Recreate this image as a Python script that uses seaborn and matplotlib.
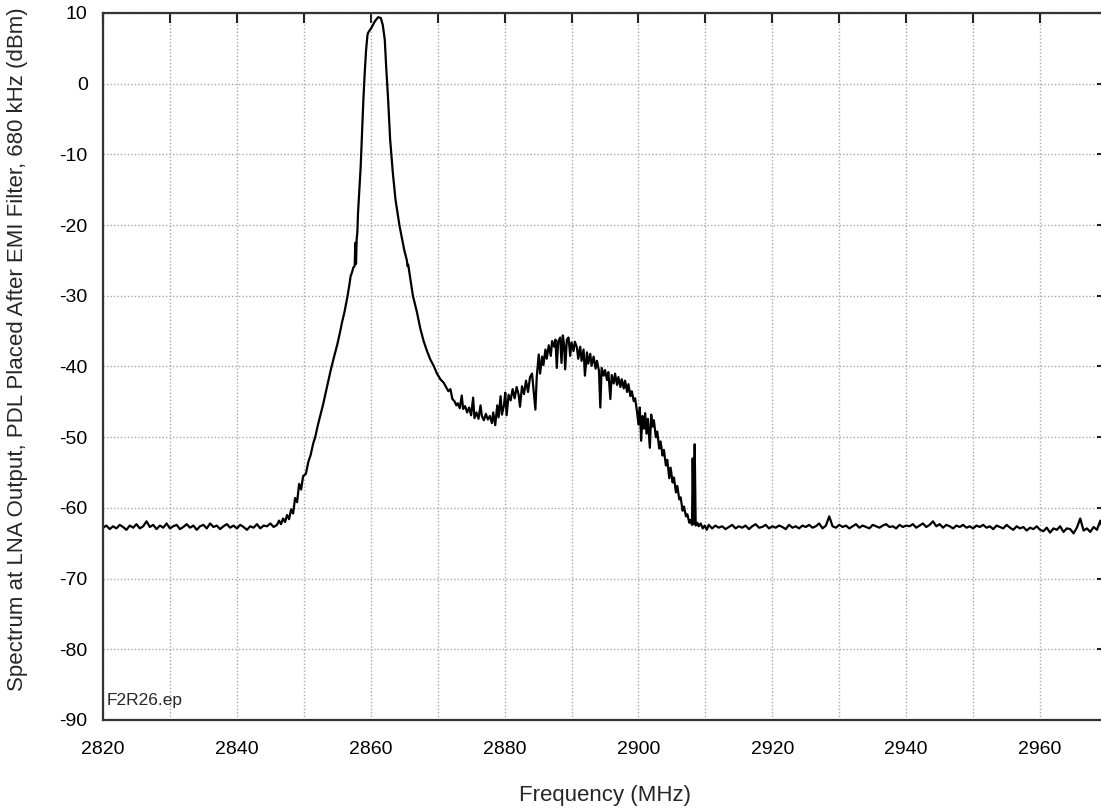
import numpy as np
import pandas as pd
import matplotlib
matplotlib.use("Agg")
import matplotlib.pyplot as plt
import matplotlib.ticker as mticker
import seaborn as sns

# ---- data ----
# left noise floor, sampled every 0.5 MHz from 2820 to 2846
floor_left_start, floor_left_step = 2820.0, 0.5
floor_left_dbm = [
    -62.8, -62.5, -63.0, -62.6, -62.9, -62.4, -62.7, -63.1, -62.5, -62.8,
    -62.3, -62.9, -62.6, -61.9, -62.7, -62.4, -63.0, -62.5, -62.8, -62.2,
    -62.9, -62.6, -62.4, -63.0, -62.7, -62.3, -62.8, -62.5, -63.1, -62.6,
    -62.4, -62.9, -62.2, -62.7, -62.5, -63.0, -62.6, -62.3, -62.8, -62.5,
    -62.9, -62.4, -62.7, -63.1, -62.6, -62.8, -62.3, -62.9, -62.5, -62.6,
    -62.2, -62.7, -62.4,
]

# main carrier peak
peak_mhz = [
    2846.3, 2846.6, 2846.9, 2847.2, 2847.5, 2847.8, 2848.1, 2848.4, 2848.7, 2849.0,
    2849.3, 2849.6, 2849.9, 2850.3, 2850.7, 2851.0, 2851.4, 2851.7, 2852.1, 2852.5,
    2852.9, 2853.2, 2853.6, 2854.0, 2854.5, 2855.0, 2855.4, 2855.7, 2856.1, 2856.5,
    2856.8, 2857.0, 2857.2, 2857.4, 2857.6, 2857.7, 2857.8, 2857.9, 2858.0, 2858.1,
    2858.3, 2858.5, 2858.7, 2858.9, 2859.1, 2859.3, 2859.5, 2859.6, 2860.1, 2860.6,
    2861.1, 2861.5, 2861.8, 2862.1, 2862.3, 2862.6, 2862.9, 2863.3, 2863.7, 2864.3,
    2865.0, 2865.4, 2865.5, 2865.6, 2866.3, 2866.9, 2867.4, 2867.9, 2868.4,
    2868.9, 2869.4, 2869.9, 2870.4, 2870.9, 2871.3, 2871.6,
]
peak_dbm = [
    -61.8, -62.3, -61.5, -62.0, -61.0, -61.6, -60.2, -60.8, -58.6, -59.2,
    -56.6, -57.4, -55.5, -55.2, -53.4, -52.6, -50.9, -50.0, -48.3, -46.8,
    -45.3, -44.0, -42.3, -40.6, -38.7, -36.9, -35.2, -33.8, -32.2, -30.2,
    -28.5, -27.2, -26.7, -26.0, -25.8, -22.5, -25.5, -22.0, -21.0, -18.3,
    -15.0, -11.7, -7.0, -2.3, 1.5, 4.7, 6.8, 7.2, 7.9, 8.8,
    9.4, 9.3, 8.3, 6.2, 2.5, -2.3, -7.9, -12.6, -16.4, -20.1,
    -23.5, -25.0, -25.8, -25.6, -30.0, -32.3, -34.6, -36.4, -37.8,
    -39.0, -39.9, -41.0, -41.8, -42.3, -43.0, -43.5,
]

# trough, second hump and fall to the floor (incl. spur near 2908 MHz)
hump_mhz = [
    2871.9, 2872.2, 2872.5, 2872.8, 2873.0, 2873.3, 2873.6, 2873.8, 2874.1, 2874.4,
    2874.7, 2875.0, 2875.3, 2875.5, 2875.8, 2876.1, 2876.4, 2876.6, 2876.9, 2877.2,
    2877.5, 2877.8, 2878.1, 2878.3, 2878.6, 2878.9, 2879.1, 2879.4, 2879.6, 2879.9,
    2880.1, 2880.3, 2880.6, 2880.9, 2881.2, 2881.5, 2881.8, 2882.1, 2882.3, 2882.6,
    2882.9, 2883.2, 2883.5, 2883.8, 2884.1, 2884.4, 2884.6, 2884.8, 2885.1, 2885.3,
    2885.6, 2885.8, 2886.1, 2886.3, 2886.6, 2886.9, 2887.1, 2887.4, 2887.6, 2887.8,
    2888.0, 2888.3, 2888.5, 2888.7, 2888.9, 2889.05, 2889.3, 2889.55, 2889.8, 2890.0,
    2890.3, 2890.5, 2890.8, 2891.0, 2891.3, 2891.5, 2891.8, 2892.0, 2892.3, 2892.5,
    2892.8, 2893.0, 2893.3, 2893.6, 2893.8, 2894.1, 2894.3, 2894.5, 2894.8, 2895.0,
    2895.3, 2895.5, 2895.8, 2896.0, 2896.3, 2896.5, 2896.8, 2897.0, 2897.3, 2897.5,
    2897.8, 2898.0, 2898.3, 2898.5, 2898.8, 2899.0, 2899.3, 2899.5, 2899.8, 2900.0,
    2900.2, 2900.4, 2900.6, 2900.8, 2901.0, 2901.2, 2901.4, 2901.7, 2901.9, 2902.1,
    2902.3, 2902.6, 2902.8, 2903.1, 2903.3, 2903.6, 2903.8, 2904.1, 2904.3, 2904.6,
    2904.8, 2905.1, 2905.3, 2905.6, 2905.8, 2906.1, 2906.3, 2906.6, 2906.8, 2907.1,
    2907.3, 2907.6, 2907.8, 2908.0, 2908.1, 2908.25, 2908.4, 2908.55, 2908.8, 2909.0,
    2909.3, 2909.6, 2909.9, 2910.2,
]
hump_dbm = [
    -43.2, -44.6, -44.9, -45.5, -45.2, -45.9, -44.1, -46.0, -45.6, -46.5,
    -45.8, -46.9, -44.4, -47.3, -46.5, -47.4, -45.5, -47.0, -47.6, -46.7,
    -47.5, -47.0, -48.0, -46.5, -48.3, -45.5, -47.2, -44.2, -46.8, -45.5,
    -43.7, -46.9, -44.0, -44.8, -43.2, -44.5, -42.9, -44.0, -45.7, -42.8,
    -43.9, -42.0, -43.6, -41.5, -41.0, -44.0, -46.1, -41.5, -38.3, -41.0,
    -38.6, -39.8, -37.6, -38.9, -37.0, -38.5, -36.4, -37.2, -36.2, -40.2,
    -36.5, -35.9, -39.5, -35.6, -37.0, -40.4, -36.2, -35.9, -38.5, -36.6,
    -37.8, -36.5, -37.3, -38.9, -37.2, -39.2, -37.6, -41.3, -38.0, -39.6,
    -38.2, -39.9, -38.6, -40.3, -39.2, -40.6, -45.8, -40.2, -41.3, -40.5,
    -41.9, -40.8, -44.6, -41.2, -42.4, -41.0, -42.6, -41.5, -42.9, -41.8,
    -43.1, -42.0, -43.6, -42.5, -44.2, -43.5, -44.9, -44.5, -46.5, -48.2,
    -45.8, -50.5, -47.0, -48.8, -46.6, -49.5, -47.4, -51.5, -46.8, -48.5,
    -47.6, -50.0, -49.2, -51.6, -50.6, -52.6, -51.8, -54.0, -53.2, -55.8,
    -54.3, -56.4, -55.7, -57.8, -56.9, -58.8, -58.5, -60.4, -59.8, -61.2,
    -60.9, -62.1, -61.7, -62.4, -53.0, -62.3, -51.0, -62.5, -62.1, -62.6,
    -62.2, -62.9, -62.5, -63.1,
]

# right noise floor, sampled every 0.5 MHz from 2910.5 to 2969.5
floor_right_start, floor_right_step = 2910.5, 0.5
floor_right_dbm = [
    -62.4, -62.9, -62.5, -62.8, -62.6, -63.0, -62.7, -62.4, -62.9, -62.6,
    -62.8, -62.5, -63.0, -62.6, -62.3, -62.8, -62.7, -62.4, -62.9, -62.6,
    -62.8, -62.5, -62.7, -63.0, -62.4, -62.8, -62.6, -62.9, -62.5, -62.7,
    -62.4, -62.8, -62.6, -62.2, -62.9, -62.5, -61.2, -62.6, -62.8, -62.4,
    -62.7, -62.5, -62.9, -62.6, -62.3, -62.8, -62.5, -62.7, -62.9, -62.4,
    -62.6, -62.8, -62.5, -62.3, -62.7, -62.6, -62.9, -62.4, -62.7, -62.5,
    -62.6, -62.3, -62.8, -62.5, -62.2, -62.7, -62.4, -61.9, -62.6, -62.3,
    -62.8, -62.4, -62.6, -62.9, -62.5, -62.7, -62.4, -62.8, -62.6, -62.9,
    -62.5, -62.7, -62.4, -62.8, -62.6, -63.0, -62.5, -62.7, -62.9, -62.4,
    -62.8, -63.1, -62.6, -62.9, -62.7, -63.2, -62.8, -63.0, -62.6, -63.1,
    -63.3, -62.8, -63.5, -62.9, -63.1, -62.6, -63.4, -62.9, -63.0, -63.6,
    -62.8, -61.5, -63.2, -62.9, -63.4, -62.7, -63.1, -61.8, -63.3, -62.9,
]

x_ticks = [2820, 2840, 2860, 2880, 2900, 2920, 2940, 2960]
y_ticks = [-90, -80, -70, -60, -50, -40, -30, -20, -10, 0, 10]
x_label = "Frequency (MHz)"
y_label = "Spectrum at LNA Output, PDL Placed After EMI Filter, 680 kHz (dBm)"
file_tag = "F2R26.ep"

# ---- assemble ----
fl = floor_left_start + floor_left_step * np.arange(len(floor_left_dbm))
fr = floor_right_start + floor_right_step * np.arange(len(floor_right_dbm))
freq = np.concatenate([fl, peak_mhz, hump_mhz, fr])
level = np.concatenate([floor_left_dbm, peak_dbm, hump_dbm, floor_right_dbm])
df = pd.DataFrame({"freq": freq, "level": level})

sns.set_style("white")
plt.rcParams["font.family"] = ["Liberation Sans", "DejaVu Sans"]
plt.rcParams["axes.unicode_minus"] = False

fig = plt.figure(figsize=(11.01, 8.09), dpi=100)
ax = fig.add_axes([103 / 1101, 89 / 809, 1004 / 1101, 707 / 809])

sns.lineplot(data=df, x="freq", y="level", ax=ax, color="black",
             linewidth=1.6, estimator=None, sort=True)

ax.set_xlim(2820, 2970)
ax.set_ylim(-90, 10)
ax.xaxis.set_major_locator(mticker.MultipleLocator(10))
ax.xaxis.set_major_formatter(mticker.FuncFormatter(
    lambda v, p: f"{int(round(v))}" if int(round(v)) in x_ticks else ""))
ax.set_yticks(y_ticks)
ax.grid(True, linestyle=(0, (1, 1.5)), color="#a8a8a8", linewidth=1.0)

for s in ax.spines.values():
    s.set_color("#333333")
    s.set_linewidth(1.6)
    s.set_visible(True)

ax.tick_params(axis="both", direction="in", length=7, width=1.5,
               top=True, right=True, labelsize=14, colors="#222222",
               labelcolor="black")
ax.tick_params(axis="x", pad=15)
ax.tick_params(axis="y", pad=11)

ax.set_xlabel(x_label, fontsize=16)
ax.set_ylabel(y_label, fontsize=16)
ax.xaxis.set_label_coords((605 - 103) / 1004, -(795 - 720) / 707)
ax.yaxis.set_label_coords(-(103 - 18) / 1004, (720 - 349) / 707)
ax.xaxis.label.set_verticalalignment("center")
ax.yaxis.label.set_verticalalignment("center")

ax.text(2820.6, -87.3, file_tag, fontsize=12.5, ha="left", va="center")

fig.savefig("out.png", dpi=100)
